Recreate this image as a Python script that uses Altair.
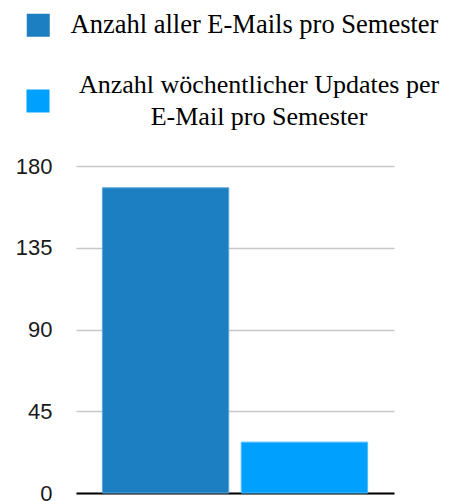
import altair as alt
import pandas as pd

categories = [
    "Anzahl aller E-Mails pro Semester",
    "Anzahl wöchentlicher Updates per E-Mail pro Semester",
]
label_lines = [
    ["Anzahl aller E-Mails pro Semester"],
    ["Anzahl wöchentlicher Updates per", "E-Mail pro Semester"],
]
values = [168, 28]
colors = ["#1b7fc1", "#00a1fe"]
stroke_colors = ["#5ea8dc", "#4dbcff"]
y_ticks = [0, 45, 90, 135, 180]

df = pd.DataFrame({"category": categories, "value": values})

x_enc = alt.X(
    "category:N",
    sort=categories,
    scale=alt.Scale(paddingInner=0.09, paddingOuter=0.19),
    axis=alt.Axis(
        title=None, labels=False, ticks=False, domain=True,
        domainColor="#000000", domainWidth=2, grid=False,
    ),
)
y_enc = alt.Y(
    "value:Q",
    scale=alt.Scale(domain=[0, 180], nice=False),
    axis=alt.Axis(
        title=None, values=y_ticks, domain=False, ticks=False,
        labelFont="Liberation Sans", labelFontSize=22, labelColor="#1a1a1a",
        labelPadding=24, gridColor="#c8c8c8", gridWidth=1.5,
    ),
)

legend_common = dict(
    title=None,
    orient="none",
    symbolType="square",
    symbolSize=529,
    symbolStrokeWidth=0,
    labelFont="Liberation Serif",
    labelColor="#000000",
    labelLimit=500,
    padding=0,
)

base = alt.Chart(df)

layer1 = (
    base.transform_filter(alt.datum.category == categories[0])
    .mark_bar(stroke=stroke_colors[0], strokeWidth=1)
    .encode(
        x=x_enc,
        y=y_enc,
        color=alt.Color(
            "category:N",
            scale=alt.Scale(domain=[categories[0]], range=[colors[0]]),
            legend=alt.Legend(
                legendX=-51, legendY=-154, labelOffset=19, labelFontSize=26.5,
                **legend_common,
            ),
        ),
    )
)

label_expr2 = "['" + label_lines[1][0] + "', '" + label_lines[1][1] + "']"

layer2 = (
    base.transform_filter(alt.datum.category == categories[1])
    .mark_bar(stroke=stroke_colors[1], strokeWidth=1)
    .encode(
        x=x_enc,
        y=y_enc,
        color=alt.Color(
            "category:N",
            scale=alt.Scale(domain=[categories[1]], range=[colors[1]]),
            legend=alt.Legend(
                legendX=-51, legendY=-78, labelOffset=208, labelFontSize=26,
                labelAlign="center", labelBaseline="line-bottom",
                labelExpr=label_expr2, **legend_common,
            ),
        ),
    )
)

chart = (
    alt.layer(layer1, layer2)
    .resolve_scale(color="independent")
    .properties(
        width=318,
        height=327,
        autosize=alt.AutoSizeParams(type="none"),
        padding={"left": 68, "top": 158, "right": 47, "bottom": 8},
    )
    .configure(
        view=alt.ViewConfig(stroke=None),
        style={"guide-label": {"lineHeight": 31.5}},
    )
)

chart.save("out.html", embed_options={"renderer": "svg", "actions": False})
